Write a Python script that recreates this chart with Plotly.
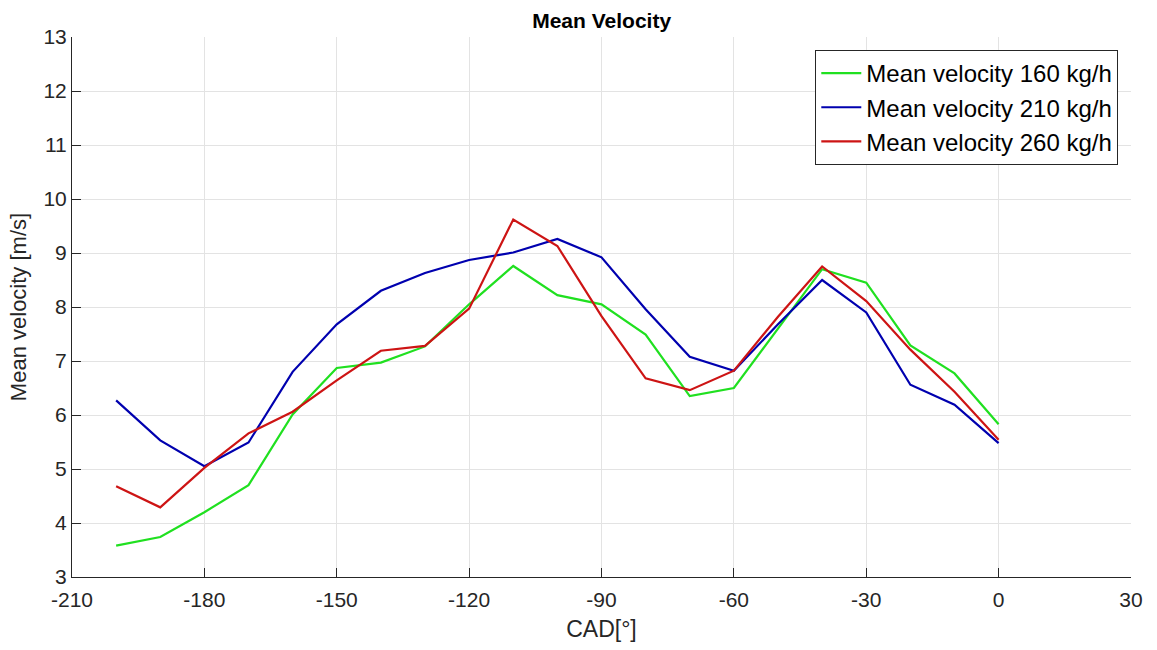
import plotly.graph_objects as go

# Crank angle positions (degrees)
cad = [-200, -190, -180, -170, -160, -150, -140, -130, -120, -110, -100,
       -90, -80, -70, -60, -50, -40, -30, -20, -10, 0]

# Mean velocity [m/s] for each mass flow rate
v160 = [3.58, 3.74, 4.20, 4.70, 6.01, 6.87, 6.97, 7.27, 8.05, 8.76, 8.22,
        8.05, 7.49, 6.35, 6.50, 7.60, 8.70, 8.45, 7.29, 6.77, 5.83]
v210 = [6.27, 5.53, 5.05, 5.49, 6.80, 7.68, 8.30, 8.63, 8.87, 9.01, 9.26,
        8.92, 7.96, 7.08, 6.82, 7.68, 8.50, 7.90, 6.56, 6.19, 5.48]
v260 = [4.68, 4.29, 5.02, 5.66, 6.06, 6.64, 7.19, 7.28, 7.97, 9.62, 9.13,
        7.83, 6.68, 6.46, 6.82, 7.82, 8.75, 8.11, 7.21, 6.43, 5.54]

series = [
    ("Mean velocity 160 kg/h", v160, "rgb(32,224,32)"),
    ("Mean velocity 210 kg/h", v210, "rgb(0,0,175)"),
    ("Mean velocity 260 kg/h", v260, "rgb(205,20,20)"),
]

x_ticks = [-210, -180, -150, -120, -90, -60, -30, 0, 30]
y_ticks = [3, 4, 5, 6, 7, 8, 9, 10, 11, 12, 13]

FONT = "Liberation Sans, Arial"

fig = go.Figure()
for name, vals, color in series:
    fig.add_trace(go.Scatter(x=cad, y=vals, mode="lines", name=name,
                             line=dict(color=color, width=2.2)))

axis_common = dict(
    showgrid=True, gridcolor="#e3e3e3", gridwidth=1,
    showline=True, linecolor="#262626", linewidth=1,
    ticks="inside", ticklen=9, tickcolor="#262626", tickwidth=1,
    zeroline=False, mirror=False,
    tickfont=dict(family=FONT, size=21, color="#262626"),
)

fig.update_layout(
    width=1157, height=650,
    margin=dict(l=72, r=26, t=37, b=73),
    paper_bgcolor="white", plot_bgcolor="white",
    title=dict(text="<b>Mean Velocity</b>", x=0.52, xanchor="center",
               y=0.968, yanchor="middle",
               font=dict(family=FONT, size=21, color="black")),
    xaxis=dict(range=[-210, 30], tickvals=x_ticks,
               ticktext=[str(t) for t in x_ticks],
               ticklabelstandoff=4,
               title=dict(text="CAD[°]", standoff=10,
                          font=dict(family=FONT, size=23, color="#262626")),
               **axis_common),
    yaxis=dict(range=[3, 13], tickvals=y_ticks,
               ticktext=[str(t) for t in y_ticks],
               title=dict(text="Mean velocity [m/s]", standoff=10,
                          font=dict(family=FONT, size=22, color="#262626")),
               **axis_common),
    legend=dict(x=0.988, y=0.976, xanchor="right", yanchor="top",
                bgcolor="white", bordercolor="#262626", borderwidth=1,
                itemwidth=40, tracegroupgap=0,
                font=dict(family=FONT, size=24, color="black")),
    showlegend=True,
)

fig.write_html("out.html")
